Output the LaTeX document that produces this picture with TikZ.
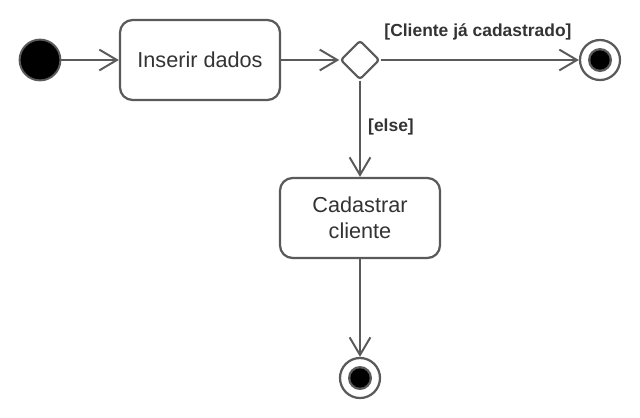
\documentclass[tikz,border=0pt]{standalone}
\usepackage{fontspec}
\setmainfont{Liberation Sans}
\usetikzlibrary{arrows.meta,shapes.geometric}
\definecolor{LineGray}{RGB}{90,90,90}
\definecolor{TextGray}{RGB}{51,51,51}
\tikzset{
  action/.style={draw=LineGray,line width=1.6pt,rounded corners=9pt,fill=white,align=center,text=TextGray,font=\fontsize{15.4}{18.5}\selectfont,minimum width=4cm,minimum height=2cm},
  initial/.style={circle,draw=LineGray,line width=1.4pt,fill=black,minimum size=1.02cm,inner sep=0pt},
  final/.style={circle,draw=LineGray,line width=1.6pt,fill=white,minimum size=1cm,inner sep=0pt,
    path picture={\fill[LineGray] (path picture bounding box.center) circle (0.3cm);
                  \fill[black] (path picture bounding box.center) circle (0.24cm);}},
  decision/.style={diamond,draw=LineGray,line width=1.6pt,fill=white,rounded corners=2pt,minimum size=0.98cm,inner sep=0pt},
  guard/.style={font=\bfseries\fontsize{12.4}{14}\selectfont,text=TextGray},
  flow/.style={-{Straight Barb[length=4.4mm,width=5.2mm,line width=1.4pt]},line width=1.4pt,draw=LineGray}
}
\begin{document}
\begin{tikzpicture}[x=0.025cm,y=-0.025cm]
  \useasboundingbox (0,0) rectangle (640,417);
  \node[initial] (start) at (40,60) {};
  \node[action] (ins) at (200,60) {Inserir dados};
  \node[decision] (dec) at (360,60) {};
  \node[final] (fimA) at (600,60) {};
  \node[action] (cad) at (360,218) {Cadastrar\\cliente};
  \node[final] (fimB) at (360,378) {};
  \draw[flow] (start)--(ins);
  \draw[flow] (ins)--(dec);
  \draw[flow] (dec)--(fimA);
  \draw[flow] (dec)--(cad);
  \draw[flow] (cad)--(fimB);
  \node[guard] (gA) at (478,32) {[Cliente já cadastrado]};
  \node[guard] (gB) at (391,127) {[else]};
\end{tikzpicture}
\end{document}
